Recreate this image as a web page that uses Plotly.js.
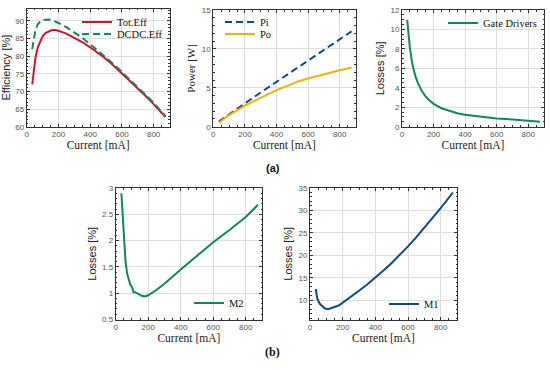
<!DOCTYPE html>
<html>
<head>
<meta charset="utf-8">
<script src="https://cdn.plot.ly/plotly-3.0.1.min.js"></script>
<style>html,body{margin:0;padding:0;background:#fff;}#chart{width:550px;height:370px;}</style>
</head>
<body>
<div id="chart"></div>
<script>
// ---- data ----
var effX = [35, 45, 55, 70, 85, 100, 120, 140, 160, 180, 200, 250, 300, 350, 400, 450, 500, 550, 600, 650, 700, 750, 800, 850, 875];
var totEff = [72, 76.5, 79.5, 82.5, 84.3, 85.6, 86.6, 87.1, 87.4, 87.4, 87.2, 86.4, 85.3, 84.0, 82.5, 80.9, 79.2, 77.2, 75.1, 73.0, 70.9, 68.7, 66.4, 63.9, 62.7];
var dcdcEff = [82, 85.5, 87.5, 89.0, 89.8, 90.2, 90.4, 90.4, 90.2, 89.9, 89.4, 88.2, 86.8, 85.2, 83.4, 81.5, 79.6, 77.6, 75.5, 73.4, 71.2, 69.0, 66.8, 64.3, 63.0];

var piX = [35, 100, 200, 300, 400, 500, 600, 700, 800, 875];
var piW = [0.65, 1.6, 3.0, 4.4, 5.75, 7.1, 8.45, 9.8, 11.2, 12.25];
var poX = [35, 100, 200, 300, 400, 500, 540, 600, 700, 800, 875];
var poW = [0.5, 1.5, 2.7, 3.75, 4.7, 5.5, 5.85, 6.2, 6.75, 7.25, 7.6];

var gdX = [33, 40, 50, 60, 70, 85, 100, 125, 150, 175, 200, 250, 300, 350, 400, 500, 600, 700, 800, 875];
var gdLoss = [11, 9.6, 8.1, 7.0, 6.1, 5.2, 4.5, 3.7, 3.1, 2.7, 2.35, 1.9, 1.6, 1.38, 1.22, 1.0, 0.85, 0.74, 0.62, 0.52];

var m2X = [35, 40, 45, 50, 55, 60, 70, 80, 90, 100, 105, 110, 120, 140, 160, 180, 200, 250, 300, 400, 500, 600, 700, 800, 875];
var m2Loss = [2.9, 2.6, 2.3, 2.05, 1.82, 1.62, 1.38, 1.24, 1.16, 1.12, 1.04, 1.02, 1.02, 0.98, 0.95, 0.94, 0.96, 1.06, 1.18, 1.45, 1.71, 1.97, 2.2, 2.45, 2.68];

var m1X = [35, 45, 60, 75, 90, 110, 130, 150, 180, 200, 250, 300, 350, 400, 450, 500, 550, 600, 650, 700, 750, 800, 875];
var m1Loss = [12.5, 10.3, 9.2, 8.6, 8.2, 8.0, 8.2, 8.5, 8.9, 9.4, 10.8, 12.1, 13.5, 15.0, 16.6, 18.3, 20.1, 22.0, 24.0, 26.1, 28.3, 30.5, 34.0];

var xTitle = 'Current [mA]';

// ---- styling ----
var RED = '#dc1027', GREEN = '#0e8a55', BLUE = '#0c4a8a', ORANGE = '#f9b000';
var SERIF = "'Liberation Serif', 'Times New Roman', serif";
var SANS = "'Liberation Sans', Arial, sans-serif";
var W = 550, H = 370;

function px(a, b) { return [a / W, b / W]; }
function py(top, bottom) { return [1 - bottom / H, 1 - top / H]; }

function xa(dom, anchor) {
  return {
    domain: dom, anchor: anchor, range: [0, 900], dtick: 200, tick0: 0,
    showline: true, mirror: 'ticks', linecolor: '#333', linewidth: 1,
    ticks: 'inside', ticklen: 3, tickcolor: '#333',
    minor: {ticks: 'inside', ticklen: 1.5, dtick: 50, tickcolor: '#333', showgrid: false},
    showgrid: true, gridcolor: '#dedede', gridwidth: 1, zeroline: false,
    tickfont: {family: SANS, size: 8, color: '#555'},
    title: {text: xTitle, font: {family: SERIF, size: 11.5, color: '#222'}, standoff: 2}
  };
}
function ya(dom, anchor, range, dtick, title, tfont, minorD) {
  return {
    domain: dom, anchor: anchor, range: range, dtick: dtick,
    showline: true, mirror: 'ticks', linecolor: '#333', linewidth: 1,
    ticks: 'inside', ticklen: 3, tickcolor: '#333',
    minor: {ticks: 'inside', ticklen: 1.5, dtick: minorD, tickcolor: '#333', showgrid: false},
    showgrid: true, gridcolor: '#dedede', gridwidth: 1, zeroline: false,
    tickfont: {family: SANS, size: 8, color: '#555'},
    title: {text: title, font: {family: tfont, size: 11, color: '#222'}, standoff: 3}
  };
}

var traces = [
  {x: effX, y: totEff, name: 'Tot.Eff', xaxis: 'x', yaxis: 'y', mode: 'lines', line: {color: RED, width: 2}, legend: 'legend'},
  {x: effX, y: dcdcEff, name: 'DCDC.Eff', xaxis: 'x', yaxis: 'y', mode: 'lines', line: {color: GREEN, width: 2, dash: '7px,4px'}, legend: 'legend2'},
  {x: piX, y: piW, name: 'Pi', xaxis: 'x2', yaxis: 'y2', mode: 'lines', line: {color: BLUE, width: 2, dash: '7px,4px'}, legend: 'legend3'},
  {x: poX, y: poW, name: 'Po', xaxis: 'x2', yaxis: 'y2', mode: 'lines', line: {color: ORANGE, width: 2}, legend: 'legend4'},
  {x: gdX, y: gdLoss, name: 'Gate Drivers', xaxis: 'x3', yaxis: 'y3', mode: 'lines', line: {color: GREEN, width: 2}, legend: 'legend5'},
  {x: m2X, y: m2Loss, name: 'M2', xaxis: 'x4', yaxis: 'y4', mode: 'lines', line: {color: GREEN, width: 2}, legend: 'legend6'},
  {x: m1X, y: m1Loss, name: 'M1', xaxis: 'x5', yaxis: 'y5', mode: 'lines', line: {color: BLUE, width: 2}, legend: 'legend7'}
];

function leg(x, y) {
  return {x: x / W, y: 1 - y / H, xanchor: 'left', yanchor: 'middle', bgcolor: 'rgba(0,0,0,0)',
    borderwidth: 0, font: {family: SERIF, size: 10.5, color: '#111'}};
}

var layout = {
  width: W, height: H, margin: {l: 0, r: 0, t: 0, b: 0},
  paper_bgcolor: '#fff', plot_bgcolor: '#fff', showlegend: true,
  xaxis: xa(px(26.7, 169.5), 'y'),
  yaxis: ya(py(8.5, 126.7), 'x', [60, 93.5], 5, 'Efficiency [%]', SANS, 1),
  xaxis2: xa(px(213.3, 355.5), 'y2'),
  yaxis2: ya(py(10, 126.7), 'x2', [0, 15], 5, 'Power [W]', SERIF, 1),
  xaxis3: xa(px(402, 544), 'y3'),
  yaxis3: ya(py(10, 126.7), 'x3', [0, 12], 2, 'Losses [%]', SANS, 0.5),
  xaxis4: xa(px(115.7, 262), 'y4'),
  yaxis4: ya(py(188, 319.5), 'x4', [0.5, 3], 0.5, 'Losses [%]', SANS, 0.1),
  xaxis5: xa(px(310, 457), 'y5'),
  yaxis5: ya(py(188, 319.5), 'x5', [5.7, 35], 5, 'Losses [%]', SANS, 1),
  legend: leg(77, 22),
  legend2: leg(77, 34),
  legend3: leg(220, 22),
  legend4: leg(220, 34),
  legend5: leg(443, 23),
  legend6: leg(189, 303),
  legend7: leg(384, 304),
  annotations: [
    {text: '<b>(a)</b>', xref: 'paper', yref: 'paper', x: 273 / W, y: 1 - 168 / H, showarrow: false,
     font: {family: SANS, size: 11, color: '#111'}},
    {text: '<b>(b)</b>', xref: 'paper', yref: 'paper', x: 272 / W, y: 1 - 361 / H, showarrow: false,
     font: {family: SERIF, size: 12, color: '#111'}}
  ]
};

Plotly.newPlot('chart', traces, layout, {staticPlot: true, displayModeBar: false});
</script>
</body>
</html>
